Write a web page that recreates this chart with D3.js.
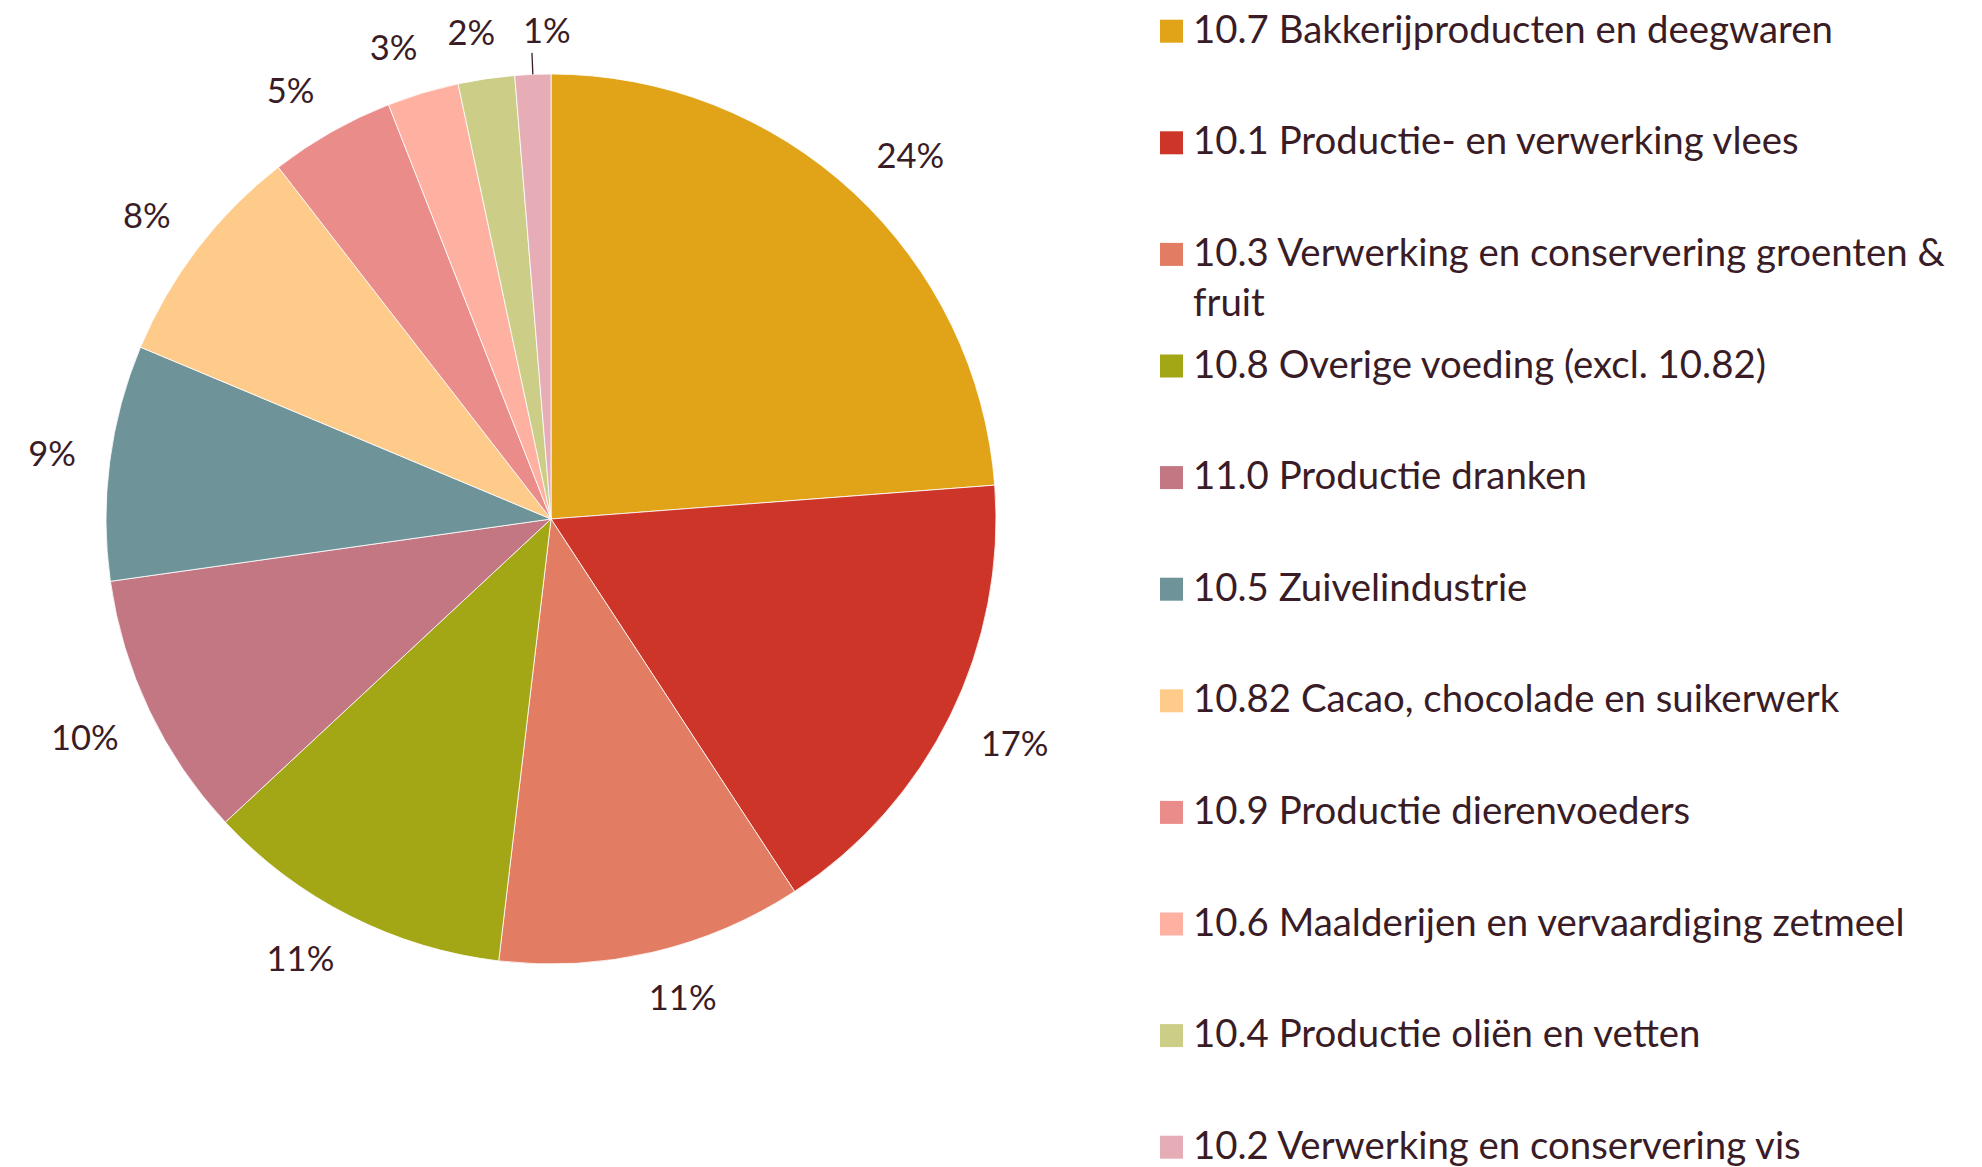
<!DOCTYPE html>
<html>
<head>
<meta charset="utf-8">
<script src="https://cdn.jsdelivr.net/npm/d3@7"></script>
<style>
  html, body { margin: 0; padding: 0; background: #fff; }
  svg { display: block; }
  text { font-family: Lato, "Open Sans", sans-serif; font-weight: 400; fill: #3a1c26; }
</style>
</head>
<body>
<svg id="chart" width="1982" height="1167"></svg>
<script>
const categories = [
  "10.7 Bakkerijproducten en deegwaren",
  "10.1 Productie- en verwerking vlees",
  "10.3 Verwerking en conservering groenten & fruit",
  "10.8 Overige voeding (excl. 10.82)",
  "11.0 Productie dranken",
  "10.5 Zuivelindustrie",
  "10.82 Cacao, chocolade en suikerwerk",
  "10.9 Productie dierenvoeders",
  "10.6 Maalderijen en vervaardiging zetmeel",
  "10.4 Productie oliën en vetten",
  "10.2 Verwerking en conservering vis"
];
const values = [23.8, 17.0, 11.1, 11.2, 9.7, 8.55, 8.2, 4.55, 2.6, 2.05, 1.3];
const colors = ["#E1A419", "#CD3529", "#E27C62", "#A3A615", "#C37783", "#6E949A",
                "#FECB8A", "#EA8C8A", "#FEB1A1", "#CCCE88", "#E6ADB7"];

const svg = d3.select("#chart");
const cx = 551, cy = 519, R = 445;
const total = d3.sum(values);
const pct = d3.format(".0%");

// font size calibrated so the first legend entry spans ~640px
const probe = svg.append("text").attr("font-size", 34).text(categories[0]);
const fs = 34 * 640 / probe.node().getComputedTextLength();
probe.remove();
const lfs = fs * 0.9;          // data label font size
const capH = lfs * 0.72;

const g = svg.append("g").attr("transform", `translate(${cx},${cy})`);
const pie = d3.pie().sort(null).value(d => d);
const arcs = pie(values);
const arc = d3.arc().innerRadius(0).outerRadius(R);

g.selectAll("path.slice").data(arcs).join("path")
  .attr("class", "slice")
  .attr("d", arc)
  .attr("fill", (d, i) => colors[i])
  .attr("stroke", "#fff")
  .attr("stroke-width", 0.8);

// data labels: label box corner sits near the mid-angle ray (smoothed)
const r0 = R + 34;
const f = s => Math.max(-1, Math.min(1, s / 0.35));
arcs.forEach((d, i) => {
  const mid = (d.startAngle + d.endAngle) / 2;
  const sx = Math.sin(mid), sy = -Math.cos(mid);
  const label = pct(d.value / total);
  if (d.value / total < 0.015) {
    const x0 = R * sx, y0 = R * sy;
    const x1 = (R + 21.5) * sx, y1 = (R + 21.5) * sy;
    g.append("line").attr("x1", x0).attr("y1", y0).attr("x2", x1).attr("y2", y1)
      .attr("stroke", "#3a1c26").attr("stroke-width", 1.3);
    g.append("text").attr("font-size", lfs)
      .attr("x", x1 - 9).attr("y", y1 - 10)
      .attr("text-anchor", "start").text(label);
    return;
  }
  const t = g.append("text").attr("font-size", lfs).attr("text-anchor", "middle").text(label);
  const w = t.node().getComputedTextLength();
  const x = r0 * sx + f(sx) * w / 2;
  const y = r0 * sy + f(sy) * capH / 2;
  t.attr("x", x).attr("y", y + capH / 2);
});

// legend
const lx = 1160, sq = 23, tx = 1193, base0 = 42.7, step = 111.6, lineH = 50.5;
const maxW = 1982 - tx - 12;
const leg = svg.append("g");
categories.forEach((c, i) => {
  const by = base0 + i * step;
  leg.append("rect").attr("x", lx).attr("y", by - sq).attr("width", sq).attr("height", sq)
    .attr("fill", colors[i]);
  const t = leg.append("text").attr("font-size", fs).attr("x", tx).attr("y", by);
  const words = c.split(" ");
  let line = [], tspan = t.append("tspan").attr("x", tx).attr("y", by), ln = 0;
  words.forEach(wd => {
    line.push(wd);
    tspan.text(line.join(" "));
    if (tspan.node().getComputedTextLength() > maxW && line.length > 1) {
      line.pop();
      tspan.text(line.join(" "));
      line = [wd];
      ln++;
      tspan = t.append("tspan").attr("x", tx).attr("y", by + ln * lineH).text(wd);
    }
  });
});
</script>
</body>
</html>
